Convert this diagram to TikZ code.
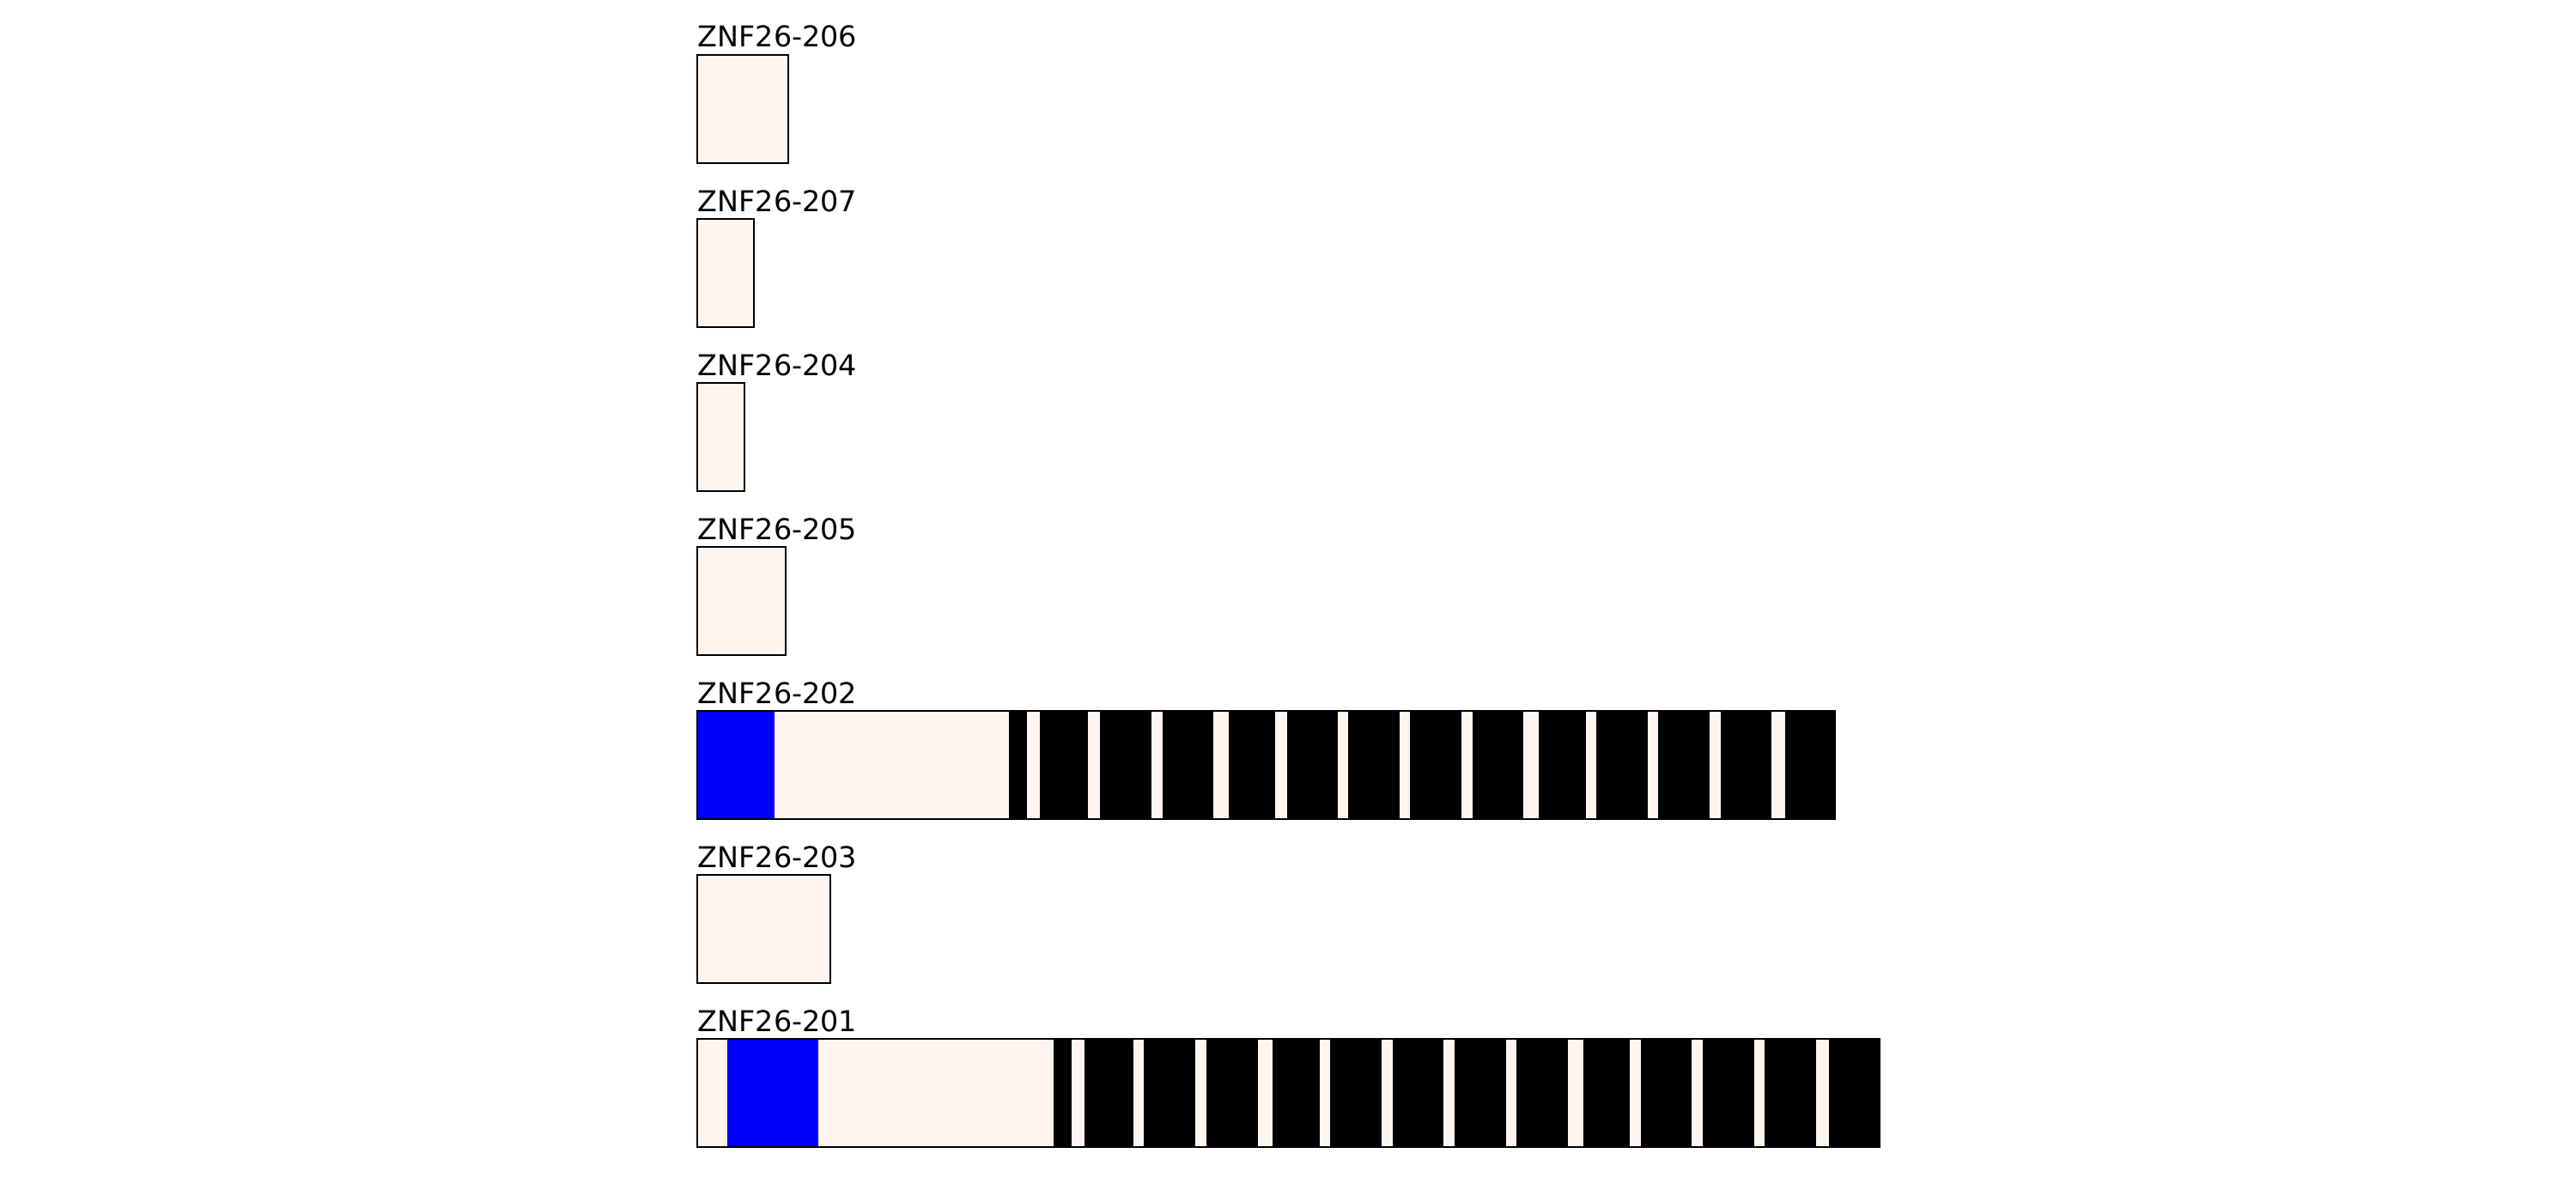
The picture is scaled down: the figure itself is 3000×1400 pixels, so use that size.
\documentclass[tikz,border=0pt]{standalone}
\usepackage{fontspec}
\setmainfont{DejaVu Sans}
\usepackage{xcolor}
\usepackage{tikz}
\definecolor{concha}{HTML}{FFF5EE}
\definecolor{azul}{HTML}{0000FF}

\begin{document}
\begin{tikzpicture}[
  x=0.01cm, y=-0.01cm,
  font=\fontsize{9.5}{11}\selectfont,
  prot/.style={fill=concha},
  borde/.style={draw=black, line width=0.65pt},
  krab/.style={fill=azul},
  dedo/.style={fill=black},
  etiq/.style={anchor=base west, inner sep=0pt}
]
  \useasboundingbox (0,0) rectangle (3000,1400);

  \node[etiq] (t206) at (812,55) {ZNF26-206};
  \path[prot, borde] (812,64) rectangle (918,190);

  \node[etiq] (t207) at (812,246) {ZNF26-207};
  \path[prot, borde] (812,255) rectangle (878,381);

  \node[etiq] (t204) at (812,437) {ZNF26-204};
  \path[prot, borde] (812,446) rectangle (867,572);

  \node[etiq] (t205) at (812,628) {ZNF26-205};
  \path[prot, borde] (812,637) rectangle (915,763);

  \node[etiq] (t202) at (812,819) {ZNF26-202};
  \fill[prot] (812,828) rectangle (2137,954);
  \fill[krab] (812,828) rectangle (902,954);
  \foreach \a/\b in {1175/1196, 1211/1267, 1281/1341, 1354/1413, 1431/1485,
                     1499/1558, 1570/1630, 1642/1702, 1715/1774, 1792/1847,
                     1859/1919, 1931/1991, 2004/2063, 2079/2137}
    \fill[dedo] (\a,828) rectangle (\b,954);
  \draw[borde] (812,828) rectangle (2137,954);

  \node[etiq] (t203) at (812,1010) {ZNF26-203};
  \path[prot, borde] (812,1019) rectangle (967,1145);

  \node[etiq] (t201) at (812,1201) {ZNF26-201};
  \fill[prot] (812,1210) rectangle (2189,1336);
  \fill[krab] (847,1210) rectangle (953,1336);
  \foreach \a/\b in {1227/1248, 1263/1320, 1332/1392, 1405/1465, 1482/1537,
                     1549/1609, 1622/1681, 1694/1754, 1766/1826, 1844/1898,
                     1911/1970, 1983/2043, 2055/2115, 2130/2189}
    \fill[dedo] (\a,1210) rectangle (\b,1336);
  \draw[borde] (812,1210) rectangle (2189,1336);
\end{tikzpicture}
\end{document}
